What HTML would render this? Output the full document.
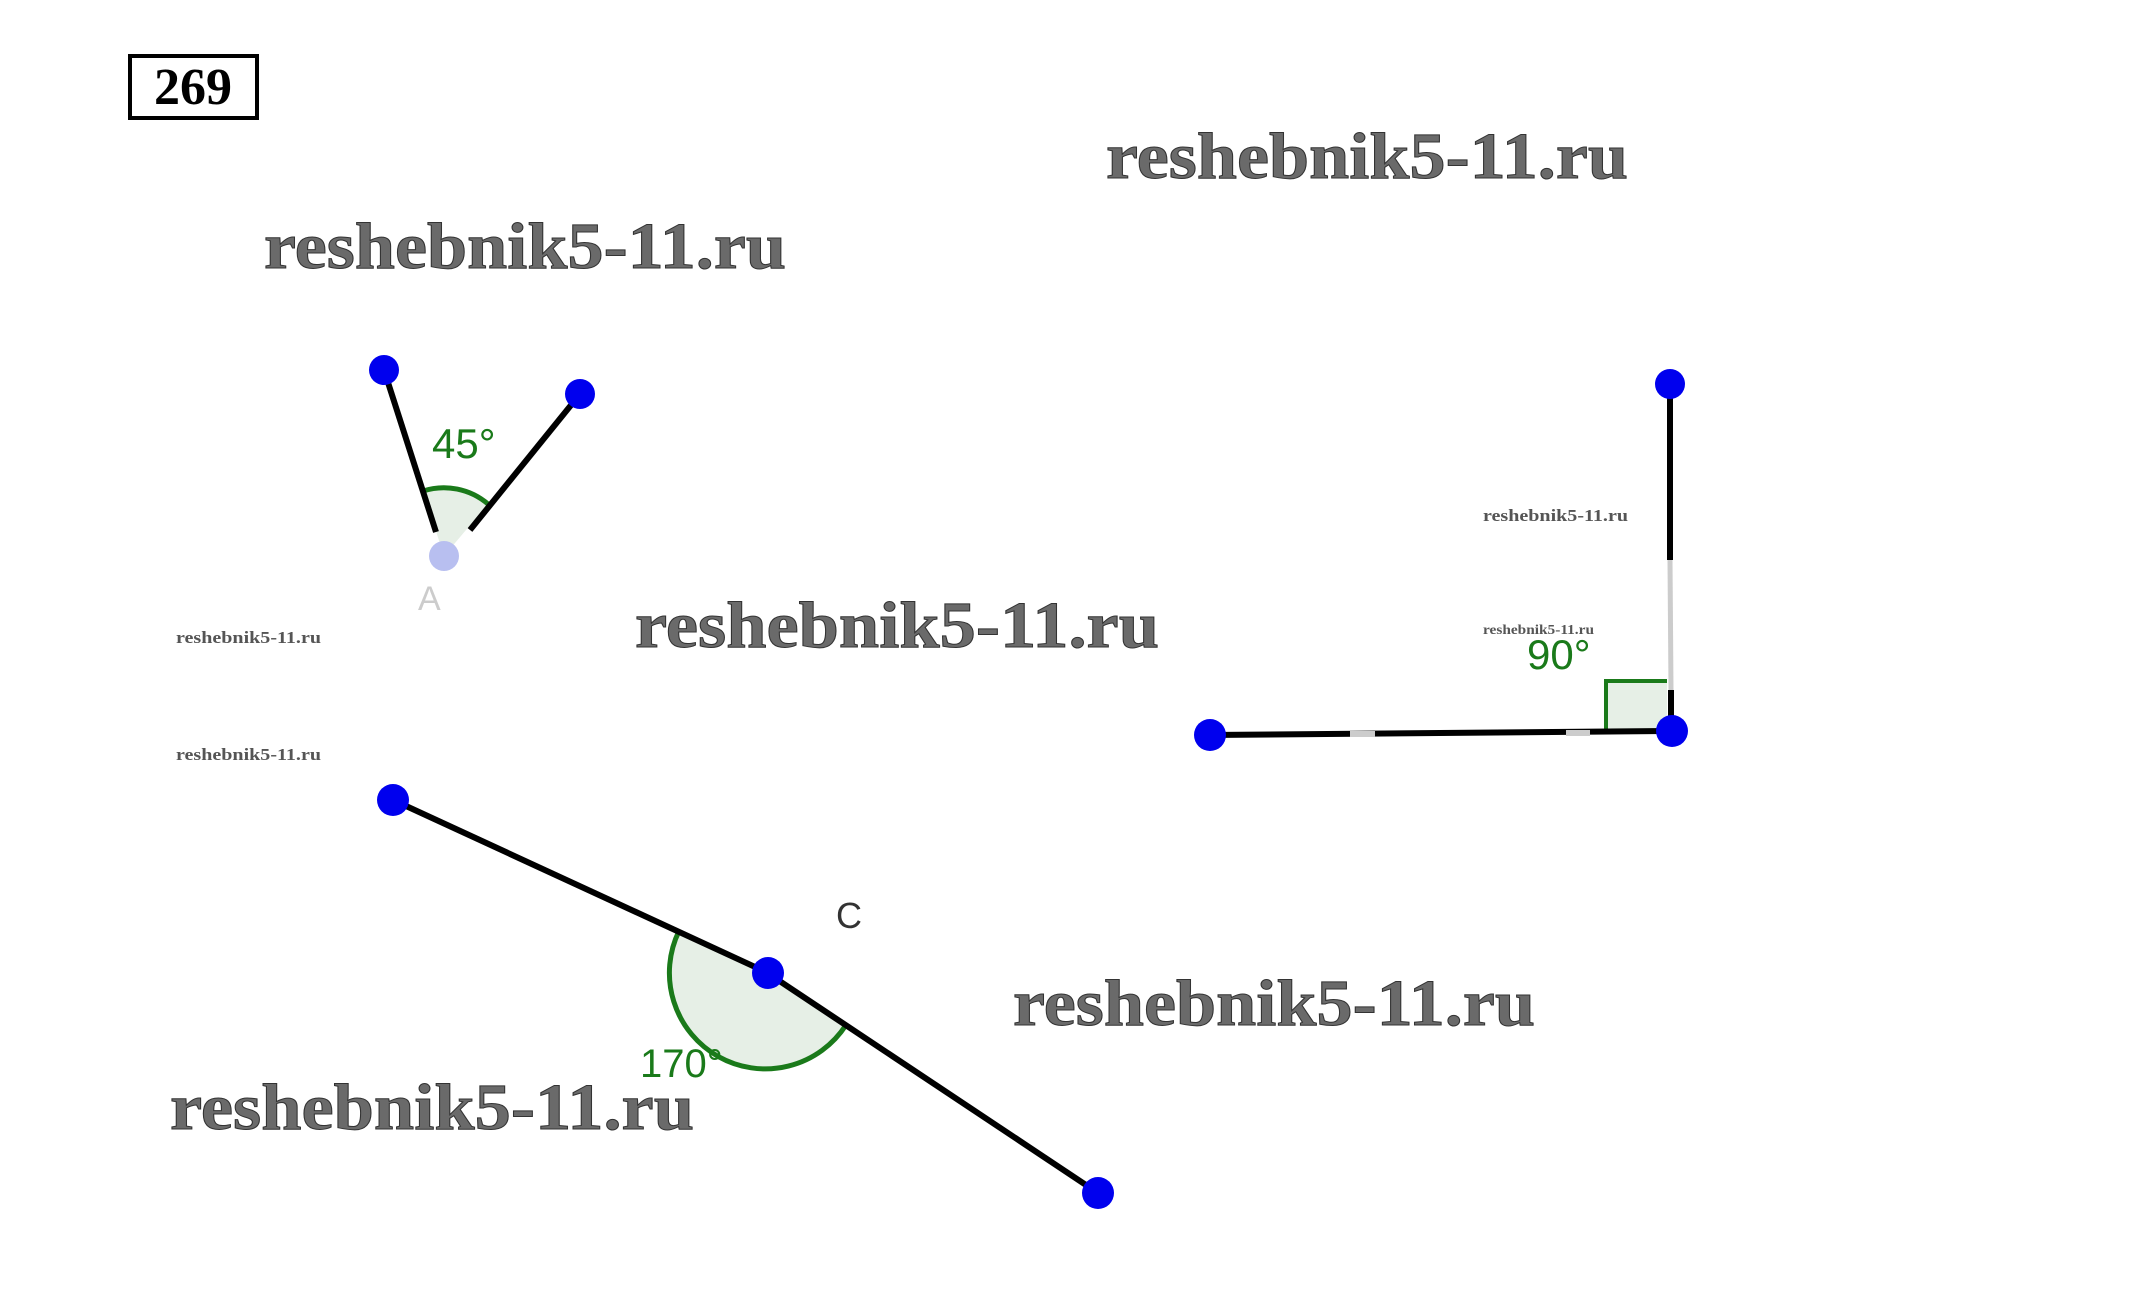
<!DOCTYPE html>
<html><head><meta charset="utf-8"><style>html,body{margin:0;padding:0;background:#fff}svg{display:block}</style></head>
<body>
<svg width="2133" height="1290" viewBox="0 0 2133 1290" xmlns="http://www.w3.org/2000/svg">
<rect x="0" y="0" width="2133" height="1290" fill="#fff"/>
<rect x="130" y="56" width="127" height="62" fill="#fff" stroke="#000" stroke-width="4"/>
<text x="193" y="104" font-family="Liberation Serif, serif" font-weight="bold" font-size="52" text-anchor="middle" fill="#000">269</text>
<g font-family="Liberation Serif, serif" font-weight="bold" fill="#6a6a6a" stroke="#333" stroke-width="1">
<text x="1106" y="178" font-size="66" textLength="522" lengthAdjust="spacingAndGlyphs">reshebnik5-11.ru</text>
<text x="264" y="268" font-size="66" textLength="522" lengthAdjust="spacingAndGlyphs">reshebnik5-11.ru</text>
<text x="635" y="647" font-size="66" textLength="524" lengthAdjust="spacingAndGlyphs">reshebnik5-11.ru</text>
<text x="1013" y="1025" font-size="66" textLength="522" lengthAdjust="spacingAndGlyphs">reshebnik5-11.ru</text>
<text x="170" y="1129" font-size="66" textLength="524" lengthAdjust="spacingAndGlyphs">reshebnik5-11.ru</text>
</g>
<g font-family="Liberation Serif, serif" font-weight="bold" fill="#555">
<text x="176" y="643" font-size="17" textLength="145" lengthAdjust="spacingAndGlyphs">reshebnik5-11.ru</text>
<text x="176" y="760" font-size="17" textLength="145" lengthAdjust="spacingAndGlyphs">reshebnik5-11.ru</text>
<text x="1483" y="521" font-size="17" textLength="145" lengthAdjust="spacingAndGlyphs">reshebnik5-11.ru</text>
<text x="1483" y="634" font-size="14" textLength="111" lengthAdjust="spacingAndGlyphs">reshebnik5-11.ru</text>
</g>
<!-- 45 -->
<path d="M444,556 L423,491 A68,68 0 0 1 488,504 Z" fill="#e6efe6"/>
<path d="M423,491 A68,68 0 0 1 488,504" fill="none" stroke="#1a7a1a" stroke-width="5"/>
<line x1="384" y1="370" x2="436" y2="532" stroke="#000" stroke-width="6"/>
<line x1="580" y1="394" x2="470" y2="530" stroke="#000" stroke-width="6"/>
<circle cx="384" cy="370" r="15" fill="#0000ee"/>
<circle cx="580" cy="394" r="15" fill="#0000ee"/>
<circle cx="444" cy="556" r="15" fill="#b8bff0"/>
<text x="432" y="458" font-family="Liberation Sans, sans-serif" font-size="42" fill="#1a7a1a">45°</text>
<text x="418" y="610" font-family="Liberation Sans, sans-serif" font-size="34" fill="#ccc">A</text>
<!-- 90 -->
<rect x="1604" y="681" width="63" height="50" fill="#e6efe6"/>
<path d="M1606,731 L1606,681 L1667,681" fill="none" stroke="#1a7a1a" stroke-width="4"/>
<line x1="1670" y1="384" x2="1670" y2="560" stroke="#000" stroke-width="6"/>
<line x1="1670" y1="560" x2="1671" y2="690" stroke="#ccc" stroke-width="5"/>
<line x1="1671" y1="690" x2="1671" y2="731" stroke="#000" stroke-width="6"/>
<line x1="1210" y1="735" x2="1671" y2="731" stroke="#000" stroke-width="6"/>
<line x1="1350" y1="734" x2="1375" y2="734" stroke="#ccc" stroke-width="6"/>
<line x1="1566" y1="733" x2="1590" y2="733" stroke="#ccc" stroke-width="6"/>
<circle cx="1670" cy="384" r="15" fill="#0000ee"/>
<circle cx="1672" cy="731" r="16" fill="#0000ee"/>
<circle cx="1210" cy="735" r="16" fill="#0000ee"/>
<text x="1527" y="669" font-family="Liberation Sans, sans-serif" font-size="42" fill="#1a7a1a">90°</text>
<!-- 170 -->
<path d="M766,972 L679,931 A96,96 0 0 0 846,1025 Z" fill="#e6efe6"/>
<path d="M679,931 A96,96 0 0 0 846,1025" fill="none" stroke="#1a7a1a" stroke-width="5"/>
<line x1="393" y1="800" x2="766" y2="972" stroke="#000" stroke-width="6"/>
<line x1="766" y1="972" x2="1098" y2="1193" stroke="#000" stroke-width="6"/>
<circle cx="393" cy="800" r="16" fill="#0000ee"/>
<circle cx="768" cy="973" r="16" fill="#0000ee"/>
<circle cx="1098" cy="1193" r="16" fill="#0000ee"/>
<text x="640" y="1077" font-family="Liberation Sans, sans-serif" font-size="40" fill="#1a7a1a">170°</text>
<text x="836" y="928" font-family="Liberation Sans, sans-serif" font-size="36" fill="#333">C</text>
</svg>
</body></html>
